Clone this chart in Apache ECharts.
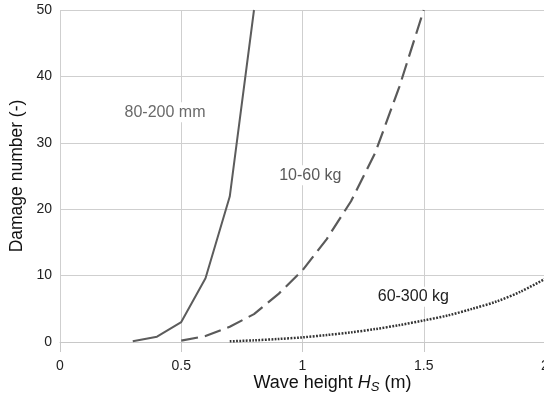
<!DOCTYPE html>
<html>
<head>
<meta charset="utf-8">
<script src="https://cdn.jsdelivr.net/npm/echarts@6/dist/echarts.min.js"></script>
<style>html,body{margin:0;padding:0;background:#fff;}#c{width:544px;height:394px;}</style>
</head>
<body>
<div id="c"></div>
<script>
var xTicks = [0, 0.5, 1, 1.5, 2];
var yTicks = [0, 10, 20, 30, 40, 50];

var mmX = [0.3, 0.4, 0.5, 0.6, 0.7, 0.8];
var mmY = [0.1, 0.8, 3.0, 9.6, 21.9, 50];

var kg1060X = [0.5, 0.6, 0.7, 0.8, 0.9, 1.0, 1.1, 1.2, 1.3, 1.4, 1.5];
var kg1060Y = [0.2, 0.9, 2.3, 4.2, 7.2, 10.8, 15.5, 21.2, 28.5, 38.5, 50];

var kg60300X = [0.7, 0.8, 0.9, 1.0, 1.1, 1.2, 1.3, 1.4, 1.5, 1.6, 1.7, 1.8, 1.9, 2.0];
var kg60300Y = [0.1, 0.25, 0.45, 0.7, 1.05, 1.45, 1.95, 2.55, 3.25, 4.0, 5.0, 6.1, 7.6, 9.5];

var labelText = ['80-200 mm', '10-60 kg', '60-300 kg'];
var labelX = [0.433, 1.032, 1.457];
var labelY = [34.6, 25.1, 6.8];

function pairs(xs, ys) { return xs.map(function (x, i) { return [x, ys[i]]; }); }
var FONT = '"Liberation Sans", Arial, sans-serif';

function lbl(i, color) {
  return {
    coord: [labelX[i], labelY[i]],
    symbol: 'rect', symbolSize: 0,
    label: {
      show: true, position: 'inside', formatter: labelText[i],
      color: color, fontSize: 16, fontFamily: FONT,
      backgroundColor: '#fff', padding: [2, 3]
    }
  };
}

var chart = echarts.init(document.getElementById('c'), null, {renderer: 'canvas'});
chart.setOption({
  animation: false,
  backgroundColor: '#fff',
  grid: {left: 60, top: 10, width: 485, height: 332, containLabel: false, outerBoundsMode: 'none'},
  xAxis: {
    type: 'value', min: 0, max: 2, interval: 0.5,
    axisLine: {show: true, lineStyle: {color: '#c8c8c8', width: 1}},
    axisTick: {show: true, length: 10, lineStyle: {color: '#c8c8c8'}},
    splitLine: {show: true, lineStyle: {color: '#cfcfcf', width: 1}},
    axisLabel: {color: '#222', fontSize: 14, fontFamily: FONT, margin: 17, showMaxLabel: true,
      formatter: function (v) { return String(v); }},
    name: '{a|Wave height }{i|H}{s|S}{a| (m)}',
    nameLocation: 'middle', nameGap: 30, nameMoveOverlap: false,
    nameTextStyle: {
      padding: [0, 0, 0, 60],
      rich: {
        a: {fontSize: 18, color: '#111', fontFamily: FONT},
        i: {fontSize: 18, color: '#111', fontFamily: FONT, fontStyle: 'italic'},
        s: {fontSize: 13, color: '#111', fontFamily: FONT, fontStyle: 'italic', padding: [9, 0, 0, 0]}
      }
    }
  },
  yAxis: {
    type: 'value', min: 0, max: 50, interval: 10,
    axisLine: {show: false},
    axisTick: {show: false},
    splitLine: {show: true, lineStyle: {color: '#cfcfcf', width: 1}},
    axisLabel: {color: '#222', fontSize: 14, fontFamily: FONT, margin: 8},
    name: 'Damage number (-)',
    nameLocation: 'middle', nameGap: 34, nameMoveOverlap: false,
    nameTextStyle: {fontSize: 17.5, color: '#111', fontFamily: FONT}
  },
  series: [
    {
      type: 'line', data: pairs(mmX, mmY), symbol: 'none', clip: true,
      lineStyle: {color: '#5c5c5c', width: 2, type: 'solid'},
      markPoint: {data: [lbl(0, '#6a6a6a')], animation: false}
    },
    {
      type: 'line', data: pairs(kg1060X, kg1060Y), symbol: 'none', clip: true,
      lineStyle: {color: '#5a5a5a', width: 2.2, type: [17, 7]},
      markPoint: {data: [lbl(1, '#5a5a5a')], animation: false}
    },
    {
      type: 'line', data: pairs(kg60300X, kg60300Y), symbol: 'none', clip: true, smooth: 0.3,
      lineStyle: {color: '#333', width: 2.5, type: [1.8, 1.4]},
      markPoint: {data: [lbl(2, '#222')], animation: false}
    }
  ]
});
</script>
</body>
</html>
